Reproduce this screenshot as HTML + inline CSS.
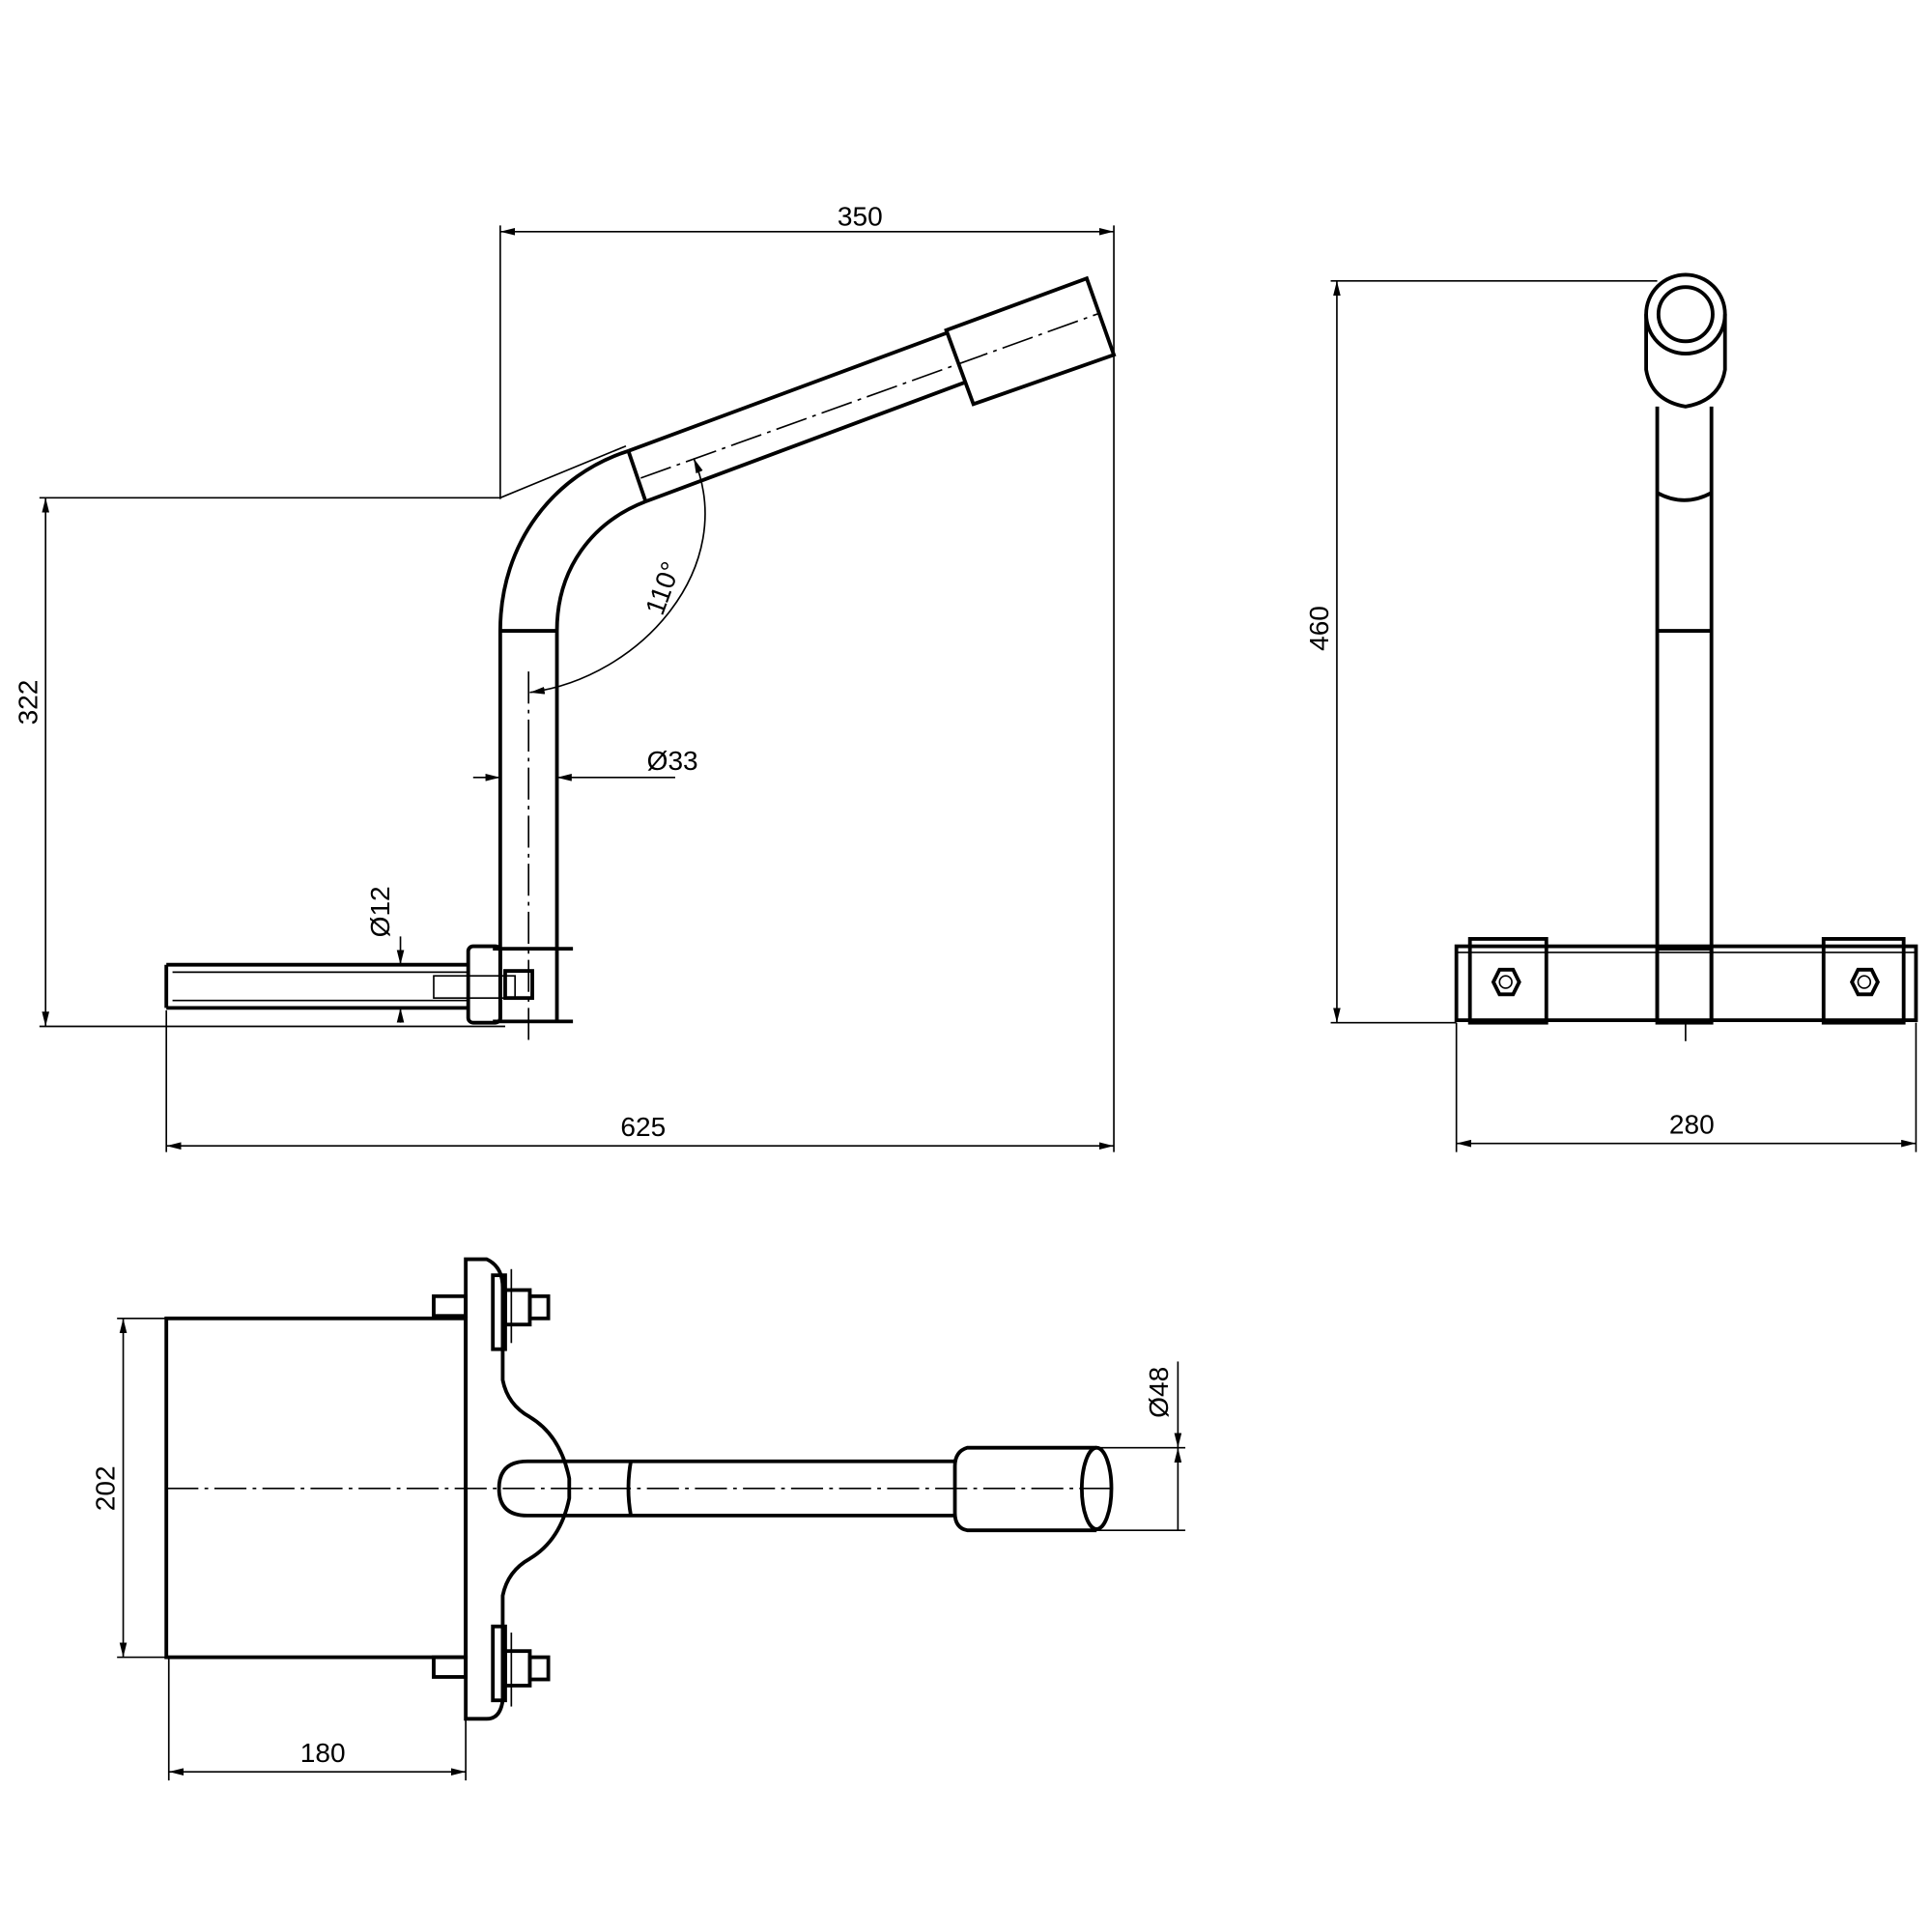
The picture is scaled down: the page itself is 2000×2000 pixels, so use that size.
<!DOCTYPE html>
<html><head><meta charset="utf-8"><style>html,body{margin:0;padding:0;background:#fff}svg{display:block}</style></head>
<body>
<svg xmlns="http://www.w3.org/2000/svg" width="2000" height="2000" viewBox="0 0 1568 1568">
<defs>
<marker id="a" viewBox="0 0 12 6" refX="12" refY="3" markerWidth="12" markerHeight="6" orient="auto-start-reverse" markerUnits="userSpaceOnUse"><path d="M0,0 L12,3 L0,6 z" fill="#000"/></marker>
</defs>
<g fill="none" stroke="#000" font-family="Liberation Sans, sans-serif">
<!-- FRONT VIEW -->
<g stroke-width="3">
<line x1="406" y1="512" x2="406" y2="830"/>
<line x1="452" y1="512" x2="452" y2="830"/>
<line x1="406" y1="512" x2="452" y2="512"/>
<path d="M406 512 C406 440 450 385 510 366"/>
<path d="M452 512 C452 462 480 424 524 407"/>
<line x1="510" y1="366" x2="524" y2="407"/>
<line x1="510" y1="366" x2="769" y2="270"/>
<line x1="524" y1="407" x2="784" y2="310"/>
<polygon points="768,268 882,226 904,288 790,328"/>
<line x1="135" y1="783" x2="380" y2="783"/>
<line x1="135" y1="818" x2="380" y2="818"/>
<line x1="135" y1="783" x2="135" y2="818"/>
<rect x="380" y="768" width="26" height="62" rx="4"/>
<line x1="400" y1="770" x2="465" y2="770"/>
<line x1="400" y1="829" x2="465" y2="829"/>
<rect x="410" y="788" width="22" height="22"/>
</g>
<g stroke-width="1.3">
<line x1="140" y1="789" x2="380" y2="789"/>
<line x1="140" y1="812" x2="380" y2="812"/>
<rect x="352" y="792" width="66" height="18"/>
<line x1="429" y1="545" x2="429" y2="845" stroke-dasharray="26 5 3 5"/>
<line x1="520" y1="388" x2="893" y2="254" stroke-dasharray="26 5 3 5"/>
<line x1="406" y1="183" x2="406" y2="405"/>
<line x1="904" y1="183" x2="904" y2="935"/>
<line x1="406" y1="188" x2="904" y2="188" marker-start="url(#a)" marker-end="url(#a)"/>
<line x1="32" y1="404" x2="406" y2="404"/>
<line x1="406" y1="404" x2="508" y2="362"/>
<line x1="32" y1="833" x2="410" y2="833"/>
<line x1="37" y1="404" x2="37" y2="833" marker-start="url(#a)" marker-end="url(#a)"/>
<line x1="135" y1="820" x2="135" y2="935"/>
<line x1="135" y1="930" x2="904" y2="930" marker-start="url(#a)" marker-end="url(#a)"/>
<line x1="384" y1="631" x2="406" y2="631" marker-end="url(#a)"/>
<line x1="548" y1="631" x2="452" y2="631" marker-end="url(#a)"/>
<path d="M430 562 C520 550 600 460 563 372" marker-start="url(#a)" marker-end="url(#a)"/>
<line x1="325" y1="760" x2="325" y2="783" marker-end="url(#a)"/>
<line x1="325" y1="830" x2="325" y2="818" marker-end="url(#a)"/>
</g>
<g fill="#000" stroke="none" font-size="22">
<text x="698" y="183" text-anchor="middle">350</text>
<text x="522" y="922" text-anchor="middle">625</text>
<text x="525" y="625">Ø33</text>
<text transform="translate(30,570) rotate(-90)" text-anchor="middle">322</text>
<text transform="translate(316,740) rotate(-90)" text-anchor="middle">Ø12</text>
<text transform="translate(545,480) rotate(-70)" text-anchor="middle">110°</text>
</g>
<!-- SIDE VIEW -->
<g stroke-width="3">
<line x1="1345" y1="330" x2="1345" y2="828"/>
<line x1="1389" y1="330" x2="1389" y2="828"/>
<path d="M1336 255 L1336 300 Q1340 325 1368 330 Q1396 325 1400 300 L1400 255"/>
<circle cx="1368" cy="255" r="32"/>
<circle cx="1368" cy="255" r="22"/>
<path d="M1345 400 Q1367 412 1389 400"/>
<line x1="1345" y1="512" x2="1389" y2="512"/>
<rect x="1182" y="768" width="373" height="60"/>
<rect x="1193" y="762" width="62" height="68"/>
<rect x="1480" y="762" width="65" height="68"/>
<rect x="1345" y="770" width="44" height="60"/>
<polygon points="1212,797 1217,787 1228,787 1233,797 1228,807 1217,807"/>
<polygon points="1503,797 1508,787 1519,787 1524,797 1519,807 1508,807"/>
</g>
<g stroke-width="1.3">
<line x1="1182" y1="773" x2="1555" y2="773"/>
<circle cx="1222" cy="797" r="5"/>
<circle cx="1513" cy="797" r="5"/>
<line x1="1368" y1="830" x2="1368" y2="845"/>
<line x1="1080" y1="228" x2="1345" y2="228"/>
<line x1="1080" y1="830" x2="1182" y2="830"/>
<line x1="1085" y1="228" x2="1085" y2="830" marker-start="url(#a)" marker-end="url(#a)"/>
<line x1="1182" y1="830" x2="1182" y2="935"/>
<line x1="1555" y1="830" x2="1555" y2="935"/>
<line x1="1182" y1="928" x2="1555" y2="928" marker-start="url(#a)" marker-end="url(#a)"/>
</g>
<g fill="#000" stroke="none" font-size="22">
<text x="1373" y="920" text-anchor="middle">280</text>
<text transform="translate(1078,510) rotate(-90)" text-anchor="middle">460</text>
</g>
<!-- TOP VIEW -->
<g stroke-width="3">
<rect x="135" y="1070" width="243" height="275"/>
<path d="M378 1022 L395 1022 Q408 1028 408 1045 L408 1120 Q412 1140 430 1150 Q455 1165 462 1200 L462 1216 Q455 1250 430 1265 Q412 1275 408 1295 L408 1380 Q406 1395 395 1395 L378 1395 Z"/>
<rect x="352" y="1052" width="26" height="16"/>
<rect x="352" y="1345" width="26" height="16"/>
<rect x="400" y="1035" width="10" height="60"/>
<rect x="400" y="1320" width="10" height="60"/>
<rect x="410" y="1047" width="20" height="28"/>
<rect x="430" y="1052" width="15" height="18"/>
<rect x="410" y="1340" width="20" height="28"/>
<rect x="430" y="1345" width="15" height="18"/>
<path d="M775 1186 L428 1186 Q405 1186 405 1208 Q405 1230 428 1230 L775 1230"/>
<path d="M512 1186 Q508 1208 512 1230"/>
<path d="M890 1175 L785 1175 Q775 1178 775 1190 L775 1228 Q775 1240 785 1242 L890 1242"/>
<ellipse cx="890" cy="1208" rx="12" ry="33"/>
</g>
<g stroke-width="1.3">
<line x1="415" y1="1030" x2="415" y2="1090"/>
<line x1="415" y1="1325" x2="415" y2="1385"/>
<line x1="135" y1="1208" x2="905" y2="1208" stroke-dasharray="26 5 3 5"/>
<line x1="95" y1="1070" x2="135" y2="1070"/>
<line x1="95" y1="1345" x2="135" y2="1345"/>
<line x1="100" y1="1070" x2="100" y2="1345" marker-start="url(#a)" marker-end="url(#a)"/>
<line x1="137" y1="1345" x2="137" y2="1445"/>
<line x1="378" y1="1395" x2="378" y2="1445"/>
<line x1="137" y1="1438" x2="378" y2="1438" marker-start="url(#a)" marker-end="url(#a)"/>
<line x1="890" y1="1175" x2="962" y2="1175"/>
<line x1="890" y1="1242" x2="962" y2="1242"/>
<line x1="956" y1="1105" x2="956" y2="1175" marker-end="url(#a)"/>
<line x1="956" y1="1242" x2="956" y2="1175" marker-end="url(#a)"/>
</g>
<g fill="#000" stroke="none" font-size="22">
<text x="262" y="1430" text-anchor="middle">180</text>
<text transform="translate(93,1208) rotate(-90)" text-anchor="middle">202</text>
<text transform="translate(948,1130) rotate(-90)" text-anchor="middle">Ø48</text>
</g>
</g>
</svg>
</body></html>
